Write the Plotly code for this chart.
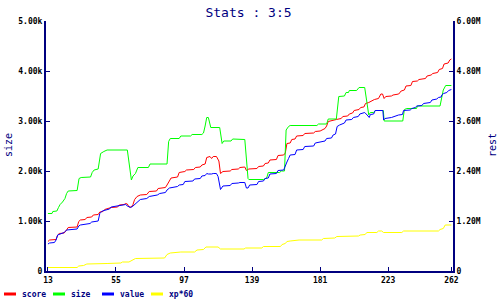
import plotly.graph_objects as go

# ---------------- data (values in thousands for left axis) ----------------
score_x = [13, 14, 18, 19, 20, 23, 24.5, 25.5, 31, 32, 33, 36, 37, 40, 41, 44, 45, 47, 48, 51, 52, 56, 57, 60, 61, 62, 63, 64.5, 65.5, 66.5, 68, 70, 74, 75.5, 80, 81, 85.5, 86.5, 88, 89, 93, 94, 97.5, 98.5, 103, 104, 107, 108, 110, 111, 113, 114, 115, 117, 118.5, 119.5, 121, 125.5, 126.5, 130.5, 131.5, 134.5, 135.5, 137, 142, 143, 146, 147, 149, 150, 154, 155, 158.5, 159.5, 160.5, 162.5, 163.5, 165.5, 166.5, 170.5, 171.5, 177, 178, 181, 184, 185, 186, 190, 191, 194, 195, 198, 199, 201, 202, 205, 206, 208, 209, 211, 213, 214.5, 217, 218.5, 219.5, 220.5, 221.5, 225, 226, 229.5, 231, 233, 234, 237, 238, 241, 242, 246, 247, 249.5, 250.5, 253.5, 254.5, 256.5, 257.5, 260, 261, 262]
score_y = [0.59, 0.62, 0.63, 0.72, 0.75, 0.76, 0.82, 0.87, 0.88, 0.99, 1.02, 1.03, 1.07, 1.08, 1.12, 1.13, 1.18, 1.19, 1.23, 1.25, 1.27, 1.28, 1.32, 1.33, 1.35, 1.34, 1.28, 1.28, 1.33, 1.43, 1.49, 1.52, 1.53, 1.59, 1.60, 1.65, 1.67, 1.72, 1.82, 1.86, 1.88, 1.97, 1.99, 2.02, 2.03, 2.07, 2.08, 2.12, 2.14, 2.27, 2.29, 2.25, 2.29, 2.29, 2.20, 1.95, 1.99, 2.00, 2.03, 2.04, 2.07, 2.08, 2.01, 2.04, 2.05, 2.09, 2.10, 2.15, 2.16, 2.22, 2.23, 2.31, 2.32, 2.36, 2.55, 2.56, 2.63, 2.64, 2.70, 2.71, 2.75, 2.76, 2.79, 2.80, 2.85, 2.90, 2.99, 3.01, 3.03, 3.05, 3.09, 3.10, 3.14, 3.16, 3.21, 3.23, 3.27, 3.28, 3.35, 3.37, 3.40, 3.43, 3.45, 3.54, 3.54, 3.45, 3.49, 3.50, 3.52, 3.54, 3.60, 3.62, 3.70, 3.71, 3.79, 3.80, 3.83, 3.85, 3.90, 3.92, 3.95, 3.97, 4.03, 4.05, 4.14, 4.16, 4.22, 4.24]

size_x = [13, 15.5, 16, 18.5, 19.5, 20.5, 22, 23.5, 24.5, 25.5, 31, 32.2, 33.5, 39.3, 40.3, 41.5, 44, 45.5, 47.5, 49.5, 62, 63, 64.5, 65.5, 67, 68.5, 75, 76, 86.5, 87.5, 88.5, 94, 95, 101, 102, 108, 109, 110, 111, 112, 113.5, 119, 120.5, 121.5, 126, 127, 134.5, 136.5, 137, 146, 148, 149, 156, 157, 159, 160, 161.5, 162.5, 179, 180, 185, 186, 191, 192.5, 196, 197, 198.5, 199, 203.5, 205, 208.5, 211, 212, 214, 215, 220, 220.5, 232, 233, 234.5, 240.5, 241, 255, 257, 258.5, 262]
size_y = [1.15, 1.15, 1.19, 1.20, 1.27, 1.33, 1.38, 1.45, 1.55, 1.60, 1.61, 1.85, 1.87, 1.88, 1.97, 2.02, 2.04, 2.35, 2.39, 2.42, 2.42, 2.20, 1.82, 1.90, 1.95, 2.07, 2.07, 2.14, 2.14, 2.59, 2.65, 2.65, 2.70, 2.70, 2.73, 2.73, 2.76, 2.90, 3.07, 3.07, 2.87, 2.87, 2.55, 2.60, 2.60, 2.64, 2.63, 1.85, 1.83, 1.83, 1.86, 1.97, 1.97, 2.00, 2.00, 2.82, 2.89, 2.91, 2.91, 2.94, 2.94, 3.04, 3.04, 3.49, 3.50, 3.57, 3.57, 3.61, 3.61, 3.67, 3.67, 3.12, 3.17, 3.17, 3.21, 3.21, 3.00, 3.00, 3.23, 3.25, 3.25, 3.30, 3.30, 3.62, 3.71, 3.71]

value_x = [13, 14, 17, 18, 19, 21, 23, 24.5, 31, 32, 33, 39, 40, 44, 45, 46.5, 51, 52, 60, 61, 62, 64, 65.5, 67, 68.5, 70, 74, 75.5, 80.5, 82, 85.5, 86.5, 88, 93, 94, 96.5, 97.5, 102.5, 103.5, 107, 108, 110, 111, 112, 114, 115, 117, 118, 119.5, 121, 125.5, 126.5, 130.5, 131.5, 134.5, 135.5, 136.5, 137.5, 142, 143, 146, 147, 149, 150, 154, 155, 158.5, 159.5, 160.5, 161.5, 162.5, 165.5, 166.5, 170.5, 171.5, 177, 178, 184, 185, 188, 189, 190.5, 191.5, 193, 196, 197, 200.5, 201.5, 204.5, 205.5, 207.5, 208.5, 210, 211.3, 212, 214, 215, 219.7, 220.2, 221, 225, 229.4, 231.8, 232.5, 236.6, 237.6, 239.7, 240.7, 243.8, 244.8, 249, 250, 253, 254, 255.7, 256.1, 257.2, 259.2, 260.3, 262]
value_y = [0.54, 0.56, 0.57, 0.62, 0.72, 0.75, 0.77, 0.82, 0.84, 0.90, 0.92, 0.95, 0.98, 1.00, 1.15, 1.20, 1.24, 1.28, 1.32, 1.33, 1.30, 1.27, 1.30, 1.35, 1.40, 1.43, 1.45, 1.49, 1.52, 1.55, 1.57, 1.62, 1.66, 1.69, 1.72, 1.73, 1.79, 1.80, 1.84, 1.85, 1.90, 1.91, 1.95, 1.94, 1.94, 1.95, 1.95, 1.89, 1.63, 1.70, 1.71, 1.75, 1.76, 1.77, 1.77, 1.66, 1.66, 1.72, 1.73, 1.79, 1.80, 1.85, 1.86, 1.94, 1.95, 2.01, 2.02, 2.12, 2.18, 2.25, 2.32, 2.33, 2.42, 2.43, 2.49, 2.50, 2.56, 2.60, 2.65, 2.66, 2.72, 2.74, 2.89, 2.92, 2.96, 3.02, 3.03, 3.07, 3.09, 3.14, 3.15, 3.17, 3.12, 3.07, 3.13, 3.14, 3.21, 3.21, 3.02, 3.05, 3.07, 3.12, 3.13, 3.21, 3.22, 3.25, 3.27, 3.30, 3.31, 3.35, 3.37, 3.42, 3.44, 3.47, 3.48, 3.52, 3.55, 3.57, 3.61, 3.63]

xp_x = [13, 31, 32, 35, 37, 47, 49.5, 58, 59, 63, 65, 67, 85, 86.5, 88.5, 94, 95, 103.5, 105, 109, 110.5, 118, 119.5, 134, 135, 145, 146, 156.5, 157.5, 159.5, 160.5, 162.5, 167, 168, 182, 183, 190, 191.3, 204.7, 205.7, 208.8, 209.8, 216, 217, 219, 220.1, 231.4, 232.5, 254, 255, 257, 258.2, 262]
xp_y = [0.07, 0.07, 0.10, 0.11, 0.14, 0.14, 0.15, 0.16, 0.18, 0.18, 0.22, 0.25, 0.26, 0.33, 0.36, 0.37, 0.38, 0.38, 0.42, 0.43, 0.48, 0.48, 0.44, 0.44, 0.46, 0.46, 0.49, 0.49, 0.53, 0.55, 0.59, 0.60, 0.61, 0.62, 0.62, 0.65, 0.66, 0.69, 0.70, 0.72, 0.73, 0.77, 0.77, 0.80, 0.80, 0.77, 0.77, 0.80, 0.80, 0.83, 0.85, 0.92, 0.92]

series_names = ["score", "size", "value", "xp*60"]
series_colors = ["#ff0000", "#00ff00", "#0000ff", "#ffff00"]

x_tickvals = [13, 55, 97, 139, 181, 223, 262]
left_tickvals = [0, 1, 2, 3, 4, 5]
left_ticktext = ["0", "1.00k", "2.00k", "3.00k", "4.00k", "5.00k"]
right_tickvals = [0, 1.2, 2.4, 3.6, 4.8, 6.0]
right_ticktext = ["0", "1.20M", "2.40M", "3.60M", "4.80M", "6.00M"]

title_text = "Stats : 3:5"
left_title = "size"
right_title = "rest"

# ---------------- layout constants (pixels) ----------------
W, H = 500, 300
L, R, T, B = 46, 453, 21, 271
NAVY = "#00007f"
MONO = "DejaVu Sans Mono"

def px_x(p):
    return (p - L) / (R - L)

def px_y(p):
    return (B - p) / (B - T)

fig = go.Figure()
xs = [score_x, size_x, value_x, xp_x]
ys = [score_y, size_y, value_y, xp_y]
for xv, yv, n, c in zip(xs, ys, series_names, series_colors):
    fig.add_trace(go.Scatter(x=xv, y=yv, mode="lines", name=n,
                             line=dict(color=c, width=1), showlegend=False,
                             hoverinfo="skip"))
# empty trace so the right-hand "rest" axis is drawn
fig.add_trace(go.Scatter(x=[], y=[], yaxis="y2", showlegend=False, hoverinfo="skip"))

tickfont = dict(family=MONO, size=8, color="black", weight="bold")

fig.update_layout(
    width=W, height=H,
    margin=dict(l=L, r=W - R, t=T, b=H - B, pad=0),
    paper_bgcolor="white", plot_bgcolor="white",
    showlegend=False,
    title=dict(text=title_text, x=0.497, xanchor="center", y=1 - 12 / H,
               yanchor="middle", font=dict(family=MONO, size=13, color=NAVY)),
    xaxis=dict(range=[11.8, 263.0], tickvals=x_tickvals, ticks="inside",
               ticklen=4, tickwidth=1, tickcolor=NAVY, showgrid=False,
               zeroline=False, showline=True, linecolor=NAVY, linewidth=2,
               tickfont=tickfont),
    yaxis=dict(range=[0, 5], tickvals=left_tickvals, ticktext=left_ticktext,
               ticks="inside", ticklen=4, tickwidth=1, tickcolor=NAVY,
               showgrid=False, zeroline=False, showline=True, linecolor=NAVY,
               linewidth=2, tickfont=tickfont),
    yaxis2=dict(range=[0, 6], tickvals=right_tickvals, ticktext=right_ticktext,
                overlaying="y", side="right", anchor="x",
                ticks="inside", ticklen=4, tickwidth=1, tickcolor=NAVY,
                showgrid=False, zeroline=False, showline=True, linecolor=NAVY,
                linewidth=2, tickfont=tickfont),
)

# axis titles
fig.add_annotation(x=px_x(8), y=px_y(145), xref="paper", yref="paper",
                   text=left_title, textangle=-90, showarrow=False,
                   xanchor="center", yanchor="middle",
                   font=dict(family=MONO, size=10, color=NAVY))
fig.add_annotation(x=px_x(492), y=px_y(145), xref="paper", yref="paper",
                   text=right_title, textangle=-90, showarrow=False,
                   xanchor="center", yanchor="middle",
                   font=dict(family=MONO, size=10, color=NAVY))

# manual legend
leg_x = [4, 53, 102, 151]
leg_y = 294
for lx, n, c in zip(leg_x, series_names, series_colors):
    fig.add_shape(type="line", xref="paper", yref="paper",
                  x0=px_x(lx), x1=px_x(lx + 12), y0=px_y(leg_y), y1=px_y(leg_y),
                  line=dict(color=c, width=3))
    fig.add_annotation(x=px_x(lx + 16), y=px_y(leg_y), xref="paper", yref="paper",
                       text=n, showarrow=False, xanchor="left", yanchor="middle",
                       font=dict(family=MONO, size=8, color=NAVY, weight="bold"))

fig.write_html("out.html")
